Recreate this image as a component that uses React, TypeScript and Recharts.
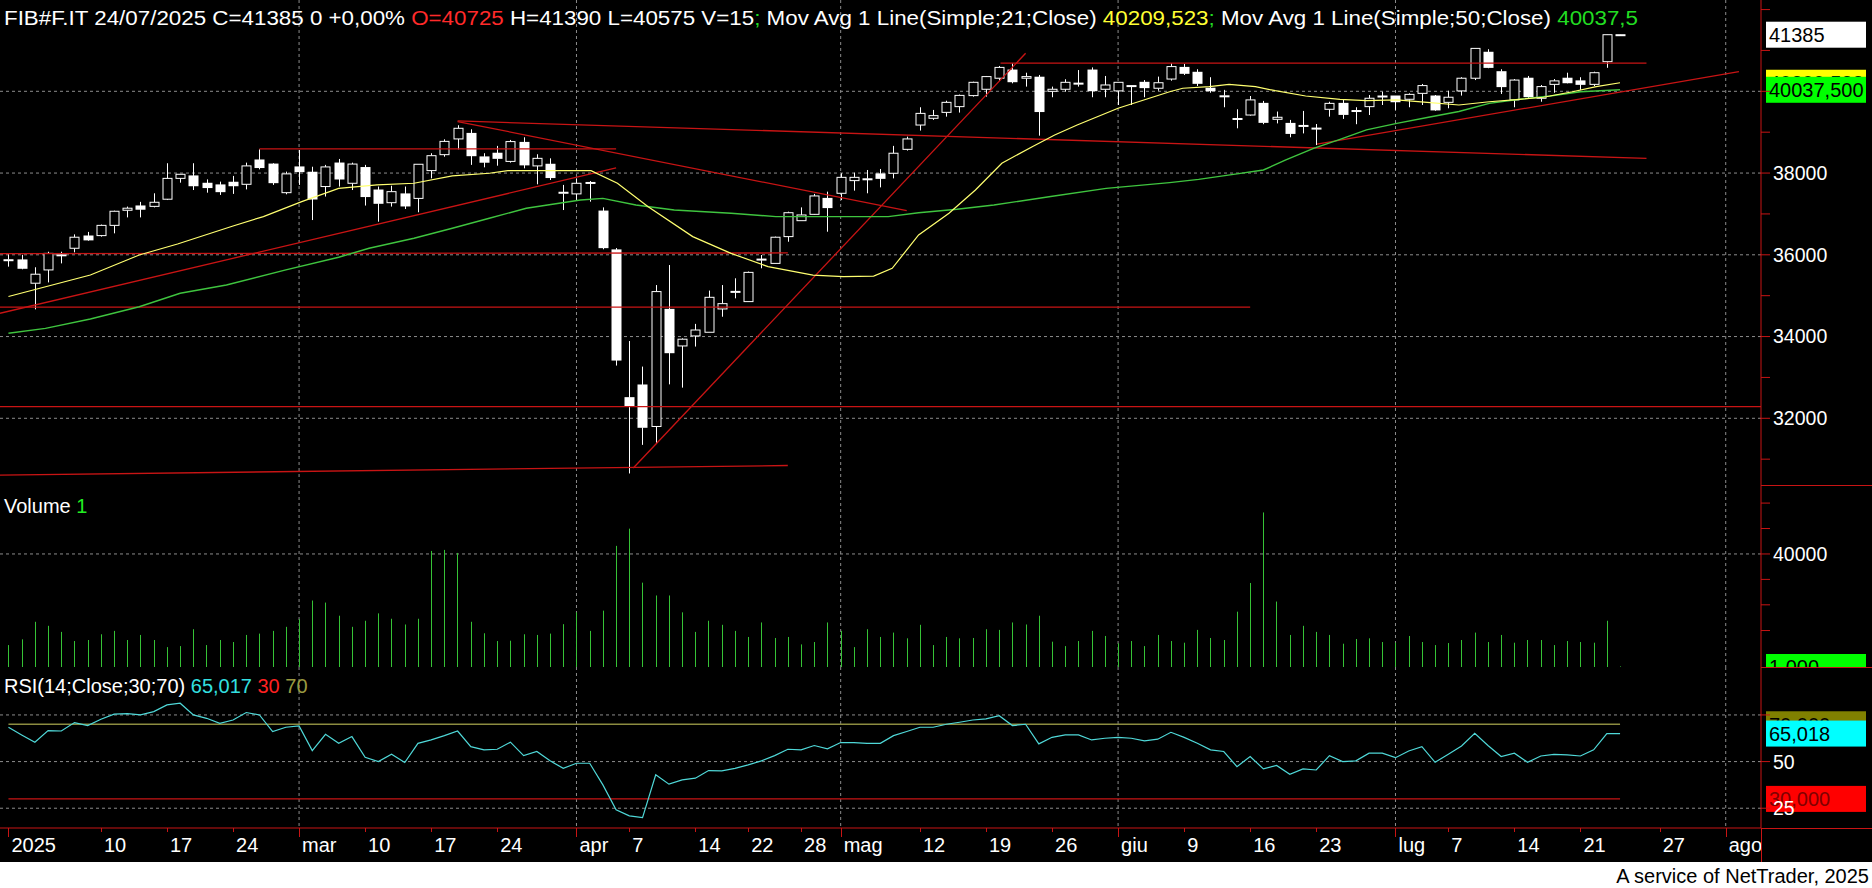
import React from 'react';
import { ComposedChart, Bar, Line, XAxis, YAxis, ReferenceLine, CartesianGrid } from 'recharts';

const FONT = "'Liberation Sans', Arial, sans-serif";
const RED = '#c81414';
const GRID = '#8c8c8c';
const W = 1872;
const AXIS_W = 111;
const XDOMAIN: [number, number] = [-0.64, 132.67];

// ---- price candles (one per trading day) ----
const opens = [35860,35875,35305,35630,35985,36160,36460,36470,36720,37090,
 37195,37185,37360,37870,37930,37750,37710,37775,37725,38320,
 38220,37520,38150,38020,37670,38245,37750,38135,37585,37275,
 37490,37380,38060,38450,38835,38970,38395,38485,38285,38750,
 38175,38215,37515,37490,37760,37070,36120,32505,32815,31800,
 34665,33770,34015,34105,34675,35090,34855,35885,35790,36445,
 36835,36990,37380,37505,37815,37850,37980,37995,38580,39175,
 39340,39485,39625,39895,40050,40320,40520,40320,40345,40000,
 40050,40190,40520,40050,40010,40135,40220,40075,40300,40585,
 40465,40075,39880,39325,39420,39705,39315,39215,39155,39090,
 39560,39705,39520,39625,39870,39885,39805,39950,39885,39730,
 40010,40320,40955,40480,39790,40320,39830,40170,40320,40255,
 40170,40725,41385];
const highs = [36010,36000,35695,36075,36075,36500,36560,36740,37080,37180,
 37295,37505,38240,37975,38240,37845,37790,37930,38255,38580,
 38240,38035,38565,38155,38200,38345,38255,38200,37670,37690,
 37670,38215,38485,38825,39170,39070,38485,38665,38810,38875,
 38460,38360,37710,37870,37805,37160,36165,33890,33265,35260,
 35750,33955,34310,35125,35260,35425,35590,35995,36445,37055,
 37160,37490,37545,37995,38010,38075,38100,38665,38890,39610,
 39545,39770,39920,40235,40375,40620,40685,40455,40400,40115,
 40295,40520,40585,40375,40220,40140,40275,40360,40685,40670,
 40540,40345,40035,39560,39885,39765,39505,39300,39520,39200,
 39745,39805,39610,39910,39990,39885,39950,40180,39910,40015,
 40345,41050,41030,40540,40300,40375,40155,40300,40455,40345,
 40480,41390,41385];
const lows = [35710,35645,34665,35325,35790,36060,36345,36445,36525,36915,
 36915,37160,37340,37765,37585,37520,37465,37490,37600,38090,
 37710,37480,37710,36850,37425,37670,37585,37205,36810,37180,
 37120,37040,37870,38400,38580,38200,38140,38180,38255,38115,
 37725,37830,37095,37340,37300,36135,33290,30650,31350,31400,
 32830,32750,33755,34105,34485,34935,34855,35670,35790,36320,
 36835,36975,36565,37340,37570,37505,37650,37870,38550,39040,
 39300,39380,39480,39870,39870,40260,40195,40115,38915,39855,
 39990,40115,39855,39855,39665,39665,39855,40015,40260,40400,
 40130,39965,39610,39095,39405,39195,39215,38875,38970,38685,
 39380,39325,39195,39420,39665,39545,39610,39665,39525,39585,
 39895,40275,40565,39935,39610,39830,39745,39965,40195,40035,
 40130,40575,41384];
const closes = [35880,35670,35525,36035,36000,36430,36365,36720,37065,37140,
 37115,37285,37870,37970,37690,37645,37545,37690,38175,38135,
 37765,37980,38035,37365,38150,37855,38220,37425,37260,37545,
 37195,38215,38425,38775,39095,38425,38265,38360,38770,38200,
 38360,37890,37530,37750,37770,36175,33425,32310,31780,35100,
 33605,33935,34160,34960,34805,35105,35570,35895,36430,37030,
 36975,37440,37155,37895,37895,37860,37870,38485,38835,39460,
 39405,39730,39900,40220,40360,40585,40235,40360,39505,40050,
 40220,40200,40015,40155,40220,40140,40090,40210,40605,40440,
 40195,40015,39890,39335,39790,39240,39365,38970,39165,39100,
 39705,39435,39530,39830,39885,39745,39925,40140,39545,39855,
 40320,41050,40585,40115,40275,39870,40115,40255,40210,40170,
 40455,41385,41385];

// ---- volume ----
const volumes = [7760,9790,16000,14570,12420,9190,9550,11580,12780,9550,
 11340,9550,7040,7400,13370,7760,9550,8840,11340,11820,
 12780,14210,16950,23520,22800,18150,14210,16360,18980,17070,
 15040,17070,41070,41430,40360,16000,11940,9190,9310,11580,
 11340,11820,15160,19340,12780,19940,42860,48950,29850,25310,
 25310,19340,12420,16360,14930,12780,10630,15760,10270,10630,
 8000,8840,15760,12780,7040,13370,10630,12180,10150,14930,
 7760,10630,10150,10270,13370,13130,15760,15040,18150,8960,
 7400,9190,12780,10980,8360,9190,7400,11340,9190,8600,
 13130,10270,9550,19580,29730,54690,23160,11340,14570,12420,
 11340,8240,9910,10150,8840,8600,10980,8840,7760,8480,
 9550,12180,8840,11340,8600,9550,9550,7760,9190,8840,
 8600,16360,200];

// ---- RSI(14) ----
const rsiValues = [68.4,64.3,60.4,66.6,66.4,70.9,69.3,72.7,75.4,75.7,
 75.0,76.8,80.4,81.3,75.0,73.2,70.5,72.3,76.3,75.0,
 66.1,68.4,69.1,55.9,64.6,59.8,63.4,52.3,50.0,53.9,
 49.5,59.8,61.6,63.9,66.4,58.0,56.3,56.6,60.4,53.2,
 55.4,50.4,46.4,49.1,49.1,37.5,24.1,20.9,20.0,42.9,
 37.9,40.2,41.1,45.2,45.0,46.4,48.2,50.4,53.2,56.6,
 56.3,58.6,56.8,60.2,60.2,59.8,59.8,63.9,66.1,68.4,
 68.4,70.0,71.1,72.3,72.9,74.6,69.3,70.0,59.5,63.0,
 64.3,64.3,61.6,62.5,63.0,62.5,61.1,62.0,65.7,63.0,
 59.8,56.3,55.4,47.3,52.7,46.1,47.9,43.2,46.1,45.5,
 53.2,50.0,50.4,54.5,54.5,52.1,55.7,58.0,49.6,53.9,
 58.4,65.2,58.6,52.7,54.5,49.6,53.0,53.9,53.6,53.0,
 56.3,65.0,65.0];

// ---- moving averages ----
const sma21Idx = [0,6.2,9.9,12.8,17,19.3,22.2,25,27.9,30.7,33.6,36.4,37.8,41,44.1,46.1,48.4,51.8,54.7,57.5,60.9,63.2,65.5,66.9,68.9,71.2,73.2,75.2,77.5,79.2,80.9,84,87.9,88.9,90.9,92.4,94.4,95.9,98.2,100.8,102.8,105.1,107.4,109.8,112.1,114.4,116.2,118.4,120.2,122];
const sma21Val = [34980,35505,35995,36265,36705,36935,37300,37625,37710,37750,37930,37995,38060,38060,38060,37750,37180,36445,36035,35710,35505,35465,35480,35670,36485,37015,37585,38240,38645,38930,39175,39585,39990,40075,40115,40170,40115,40015,39885,39805,39770,39790,39730,39665,39745,39805,39855,39990,40115,40210];
const sma50Idx = [0,2.8,6.2,9.9,13,16.5,21,25,27.3,30.7,33.6,36.4,39.2,43.3,45,47.5,50.4,54.7,58.1,63.2,66.6,68.9,71.8,74.6,78.9,83.1,87.9,90.1,93,95,96.7,98.8,100.8,102.8,105.1,107.5,109.8,112.1,114.4,116.7,119,122];
const sma50Val = [34080,34200,34430,34730,35060,35260,35630,35940,36160,36405,36650,36895,37140,37340,37380,37220,37095,37015,36935,36935,36935,37030,37115,37220,37425,37625,37765,37845,37980,38075,38320,38605,38825,39055,39215,39365,39505,39705,39805,39885,39990,40040];

// ---- trend lines drawn on the price pane [x1, y1, x2, y2] ----
const trendLines: number[][] = [
  [-0.64, 32284, 132.67, 32284],
  [-0.64, 30610, 59, 30845],
  [-0.64, 34720, 94, 34720],
  [-0.64, 36030, 59, 36045],
  [-0.64, 34570, 46, 38125],
  [19, 38590, 46, 38590],
  [34, 39260, 68, 37080],
  [34, 39275, 124, 38360],
  [47.3, 30785, 77, 40930],
  [75.1, 40690, 124, 40690],
  [99.06, 38710, 131, 40480],
];

// ---- x axis ticks ----
const xTickIdx = [0,7,12,17,22,27,32,37,43,47,52,56,60,63,69,74,79,84,89,94,99,105,109,114,119,125,130];
const xTickLbl = ['2025','10','17','24','mar','10','17','24','apr','7','14','22','28','mag','12','19','26','giu','9','16','23','lug','7','14','21','27','ago'];
const monthIdx = [22, 43, 63, 84, 105, 130];
const longTickIdx = [0, 22, 43, 63, 84, 105, 130];

// ---- y axis ticks ----
const priceTicks = [31000,32000,33000,34000,35000,36000,37000,38000,39000,40000,41000,42000];
const priceLabeled = [32000, 34000, 36000, 38000];
const priceGrid = [32000, 34000, 36000, 38000, 40000];
const volTicks = [12900, 22000, 31000, 40000, 49000, 58000];
const volLabeled = [40000];
const rsiTicks = [25, 50, 75];
const rsiLabeled = [25, 50];

const candleData = opens.map((o, i) => ({ x: i, o, h: highs[i], l: lows[i], c: closes[i], range: [lows[i], highs[i]] }));
const volData = volumes.map((v, i) => ({ x: i, v }));
const rsiData = rsiValues.map((r, i) => ({ x: i, r }));
const sma21Data = sma21Idx.map((x, i) => ({ x, v: sma21Val[i] }));
const sma50Data = sma50Idx.map((x, i) => ({ x, v: sma50Val[i] }));

const Candle = (props: any) => {
  const { x, y, width, height, payload } = props;
  if (x == null || y == null || !payload) return null;
  const cx = Math.round(x + width / 2) + 0.5;
  const top = Math.min(y, y + height);
  const bottom = Math.max(y, y + height);
  const { o, c, h, l } = payload;
  const k = h > l ? (bottom - top) / (h - l) : 0;
  const yO = top + (h - o) * k;
  const yC = top + (h - c) * k;
  let bTop = Math.min(yO, yC);
  let bBot = Math.max(yO, yC);
  if (bBot - bTop < 1) bBot = bTop + 1;
  const up = c >= o;
  return (
    <g>
      <line x1={cx} x2={cx} y1={top} y2={bTop} stroke="#fff" strokeWidth={1} />
      <line x1={cx} x2={cx} y1={bBot} y2={bottom} stroke="#fff" strokeWidth={1} />
      {up ? (
        <rect x={cx - 4.5} y={bTop} width={9} height={bBot - bTop} fill="#000" stroke="#fff" strokeWidth={1} />
      ) : (
        <rect x={cx - 5} y={bTop - 0.5} width={10} height={bBot - bTop + 1} fill="#fff" />
      )}
    </g>
  );
};

const VolShape = (props: any) => {
  const { x, y, width, height } = props;
  if (x == null || y == null) return null;
  const cx = Math.round(x + width / 2) + 0.5;
  const top = Math.min(y, y + height);
  const bottom = Math.max(y, y + height);
  return <line x1={cx} x2={cx} y1={top} y2={Math.max(bottom, top + 1)} stroke="#36c236" strokeWidth={1} />;
};

const AxisBox = (props: any) => {
  const { viewBox, text, bg, fg } = props;
  if (!viewBox) return null;
  const x = viewBox.x + viewBox.width + 5;
  const y = viewBox.y;
  return (
    <g>
      <rect x={x} y={y - 13} width={100} height={26} fill={bg} />
      <text x={x + 3} y={y + 7.5} fill={fg} fontSize={20} fontFamily={FONT}>{text}</text>
    </g>
  );
};

const XTick = (props: any) => {
  const { x, y, payload } = props;
  const i = xTickIdx.indexOf(payload.value);
  const lbl = i >= 0 ? xTickLbl[i] : '';
  const long = longTickIdx.includes(payload.value);
  const px = Math.round(x) + 0.5;
  return (
    <g>
      <line x1={px} x2={px} y1={y} y2={y + (long ? 9 : 4)} stroke={RED} />
      <text x={x + 3} y={y + 24} fill="#fff" fontSize={20} fontFamily={FONT}>{lbl}</text>
    </g>
  );
};

const yAxisCommon = {
  orientation: 'right' as const,
  width: AXIS_W,
  allowDataOverflow: true,
  interval: 0 as const,
  tickSize: 9,
  tickMargin: 3,
  axisLine: { stroke: RED },
  tickLine: { stroke: RED },
  tick: { fill: '#fff', fontSize: 19.5, fontFamily: FONT },
};

const margin = { top: 0, right: 0, bottom: 0, left: 0 };

export default function App() {
  return (
    <div style={{ position: 'absolute', left: 0, top: 0, width: W, height: 888, background: '#fff', overflow: 'hidden' }}>
      <div style={{ position: 'absolute', left: 0, top: 0, width: W, height: 862, background: '#000' }} />

      {/* price pane */}
      <div style={{ position: 'absolute', left: 0, top: 0 }}>
        <ComposedChart width={W} height={485} data={candleData} margin={margin}>
          <CartesianGrid horizontal vertical horizontalValues={priceGrid} verticalValues={monthIdx} stroke={GRID} strokeDasharray="3 3" />
          <XAxis type="number" dataKey="x" domain={XDOMAIN} allowDataOverflow hide />
          <YAxis {...yAxisCommon} domain={[30368, 42234]} ticks={priceTicks}
            tickFormatter={(v: number) => (priceLabeled.includes(v) ? String(v) : '')} />
          {trendLines.map((s, i) => (
            <ReferenceLine key={i} segment={[{ x: s[0], y: s[1] }, { x: s[2], y: s[3] }]} stroke={RED} strokeWidth={1.3} ifOverflow="hidden" />
          ))}
          <Bar dataKey="range" barSize={9} shape={(p: any) => <Candle {...p} />} isAnimationActive={false} />
          <Line data={sma50Data} dataKey="v" type="linear" stroke="#3fc43f" strokeWidth={1.4} dot={false} activeDot={false} isAnimationActive={false} />
          <Line data={sma21Data} dataKey="v" type="linear" stroke="#ffff70" strokeWidth={1.2} dot={false} activeDot={false} isAnimationActive={false} />
          <ReferenceLine y={41385} stroke="none" label={<AxisBox text="41385" bg="#ffffff" fg="#000" />} />
          <ReferenceLine y={40209.523} stroke="none" label={<AxisBox text="40209,523" bg="#ffff00" fg="#000" />} />
          <ReferenceLine y={40037.5} stroke="none" label={<AxisBox text="40037,500" bg="#00ff00" fg="#000" />} />
        </ComposedChart>
      </div>

      {/* volume pane */}
      <div style={{ position: 'absolute', left: 0, top: 485 }}>
        <ComposedChart width={W} height={182} data={volData} margin={margin}>
          <CartesianGrid horizontal vertical horizontalValues={[40000]} verticalValues={monthIdx} stroke={GRID} strokeDasharray="3 3" />
          <XAxis type="number" dataKey="x" domain={XDOMAIN} allowDataOverflow hide />
          <YAxis {...yAxisCommon} domain={[0, 64400]} ticks={volTicks}
            tickFormatter={(v: number) => (volLabeled.includes(v) ? String(v) : '')} />
          <Bar dataKey="v" barSize={3} shape={(p: any) => <VolShape {...p} />} isAnimationActive={false} />
          <ReferenceLine y={1} stroke="none" label={<AxisBox text="1,000" bg="#00ff00" fg="#000" />} />
        </ComposedChart>
      </div>

      {/* RSI pane + time axis */}
      <div style={{ position: 'absolute', left: 0, top: 667 }}>
        <ComposedChart width={W} height={195} data={rsiData} margin={margin}>
          <CartesianGrid horizontal vertical horizontalValues={[25, 50, 75]} verticalValues={monthIdx} stroke={GRID} strokeDasharray="3 3" />
          <XAxis type="number" dataKey="x" domain={XDOMAIN} allowDataOverflow ticks={xTickIdx} interval={0}
            height={34} tickSize={0} tickMargin={0} axisLine={{ stroke: RED }} tickLine={false} tick={(p: any) => <XTick {...p} />} />
          <YAxis {...yAxisCommon} domain={[14.4, 100.7]} ticks={rsiTicks}
            tickFormatter={(v: number) => (rsiLabeled.includes(v) ? String(v) : '')} />
          <ReferenceLine segment={[{ x: 0, y: 70 }, { x: 122, y: 70 }]} stroke="#8c8c40" strokeWidth={1.3} />
          <ReferenceLine segment={[{ x: 0, y: 30 }, { x: 122, y: 30 }]} stroke={RED} strokeWidth={1.3} />
          <Line dataKey="r" type="linear" stroke="#4fd8d8" strokeWidth={1.2} dot={false} activeDot={false} isAnimationActive={false} />
          <ReferenceLine y={70} stroke="none" label={<AxisBox text="70,000" bg="#808000" fg="#000" />} />
          <ReferenceLine y={65.018} stroke="none" label={<AxisBox text="65,018" bg="#00ffff" fg="#000" />} />
          <ReferenceLine y={30} stroke="none" label={<AxisBox text="30,000" bg="#ff0000" fg="#800000" />} />
        </ComposedChart>
      </div>

      {/* axis-area separators */}
      <div style={{ position: 'absolute', left: 1761, top: 485, width: 111, height: 1, background: RED }} />
      <div style={{ position: 'absolute', left: 1761, top: 667, width: 111, height: 1, background: RED }} />
      <div style={{ position: 'absolute', left: 1761, top: 828, width: 111, height: 1, background: RED }} />
      <div style={{ position: 'absolute', left: 1761, top: 828, width: 1, height: 34, background: RED }} />

      {/* legends */}
      <svg width={W} height={888} style={{ position: 'absolute', left: 0, top: 0, pointerEvents: 'none' }}>
        <text x={4} y={25} fontSize={20} fontFamily={FONT} textLength={1634} lengthAdjust="spacingAndGlyphs" style={{ whiteSpace: 'pre' }}>
          <tspan fill="#fff">{'FIB#F.IT 24/07/2025 C=41385 0 +0,00% '}</tspan>
          <tspan fill="#ff2a2a">O=40725</tspan>
          <tspan fill="#fff">{' H=41390 L=40575 V=15'}</tspan>
          <tspan fill="#22dd22">;</tspan>
          <tspan fill="#fff">{' Mov Avg 1 Line(Simple;21;Close) '}</tspan>
          <tspan fill="#ffff33">40209,523</tspan>
          <tspan fill="#22dd22">;</tspan>
          <tspan fill="#fff">{' Mov Avg 1 Line(Simple;50;Close) '}</tspan>
          <tspan fill="#22dd22">40037,5</tspan>
        </text>
        <text x={4} y={513} fontSize={20} fontFamily={FONT} style={{ whiteSpace: 'pre' }}>
          <tspan fill="#fff">{'Volume '}</tspan>
          <tspan fill="#22ee22">1</tspan>
        </text>
        <text x={4} y={693} fontSize={20} fontFamily={FONT} style={{ whiteSpace: 'pre' }}>
          <tspan fill="#fff">{'RSI(14;Close;30;70) '}</tspan>
          <tspan fill="#33e0e0">65,017</tspan>
          <tspan fill="#ff2020">{' 30'}</tspan>
          <tspan fill="#9a9a40">{' 70'}</tspan>
        </text>
        <text x={1869} y={883} fontSize={20} fontFamily={FONT} fill="#000" textAnchor="end">A service of NetTrader, 2025</text>
      </svg>
    </div>
  );
}
